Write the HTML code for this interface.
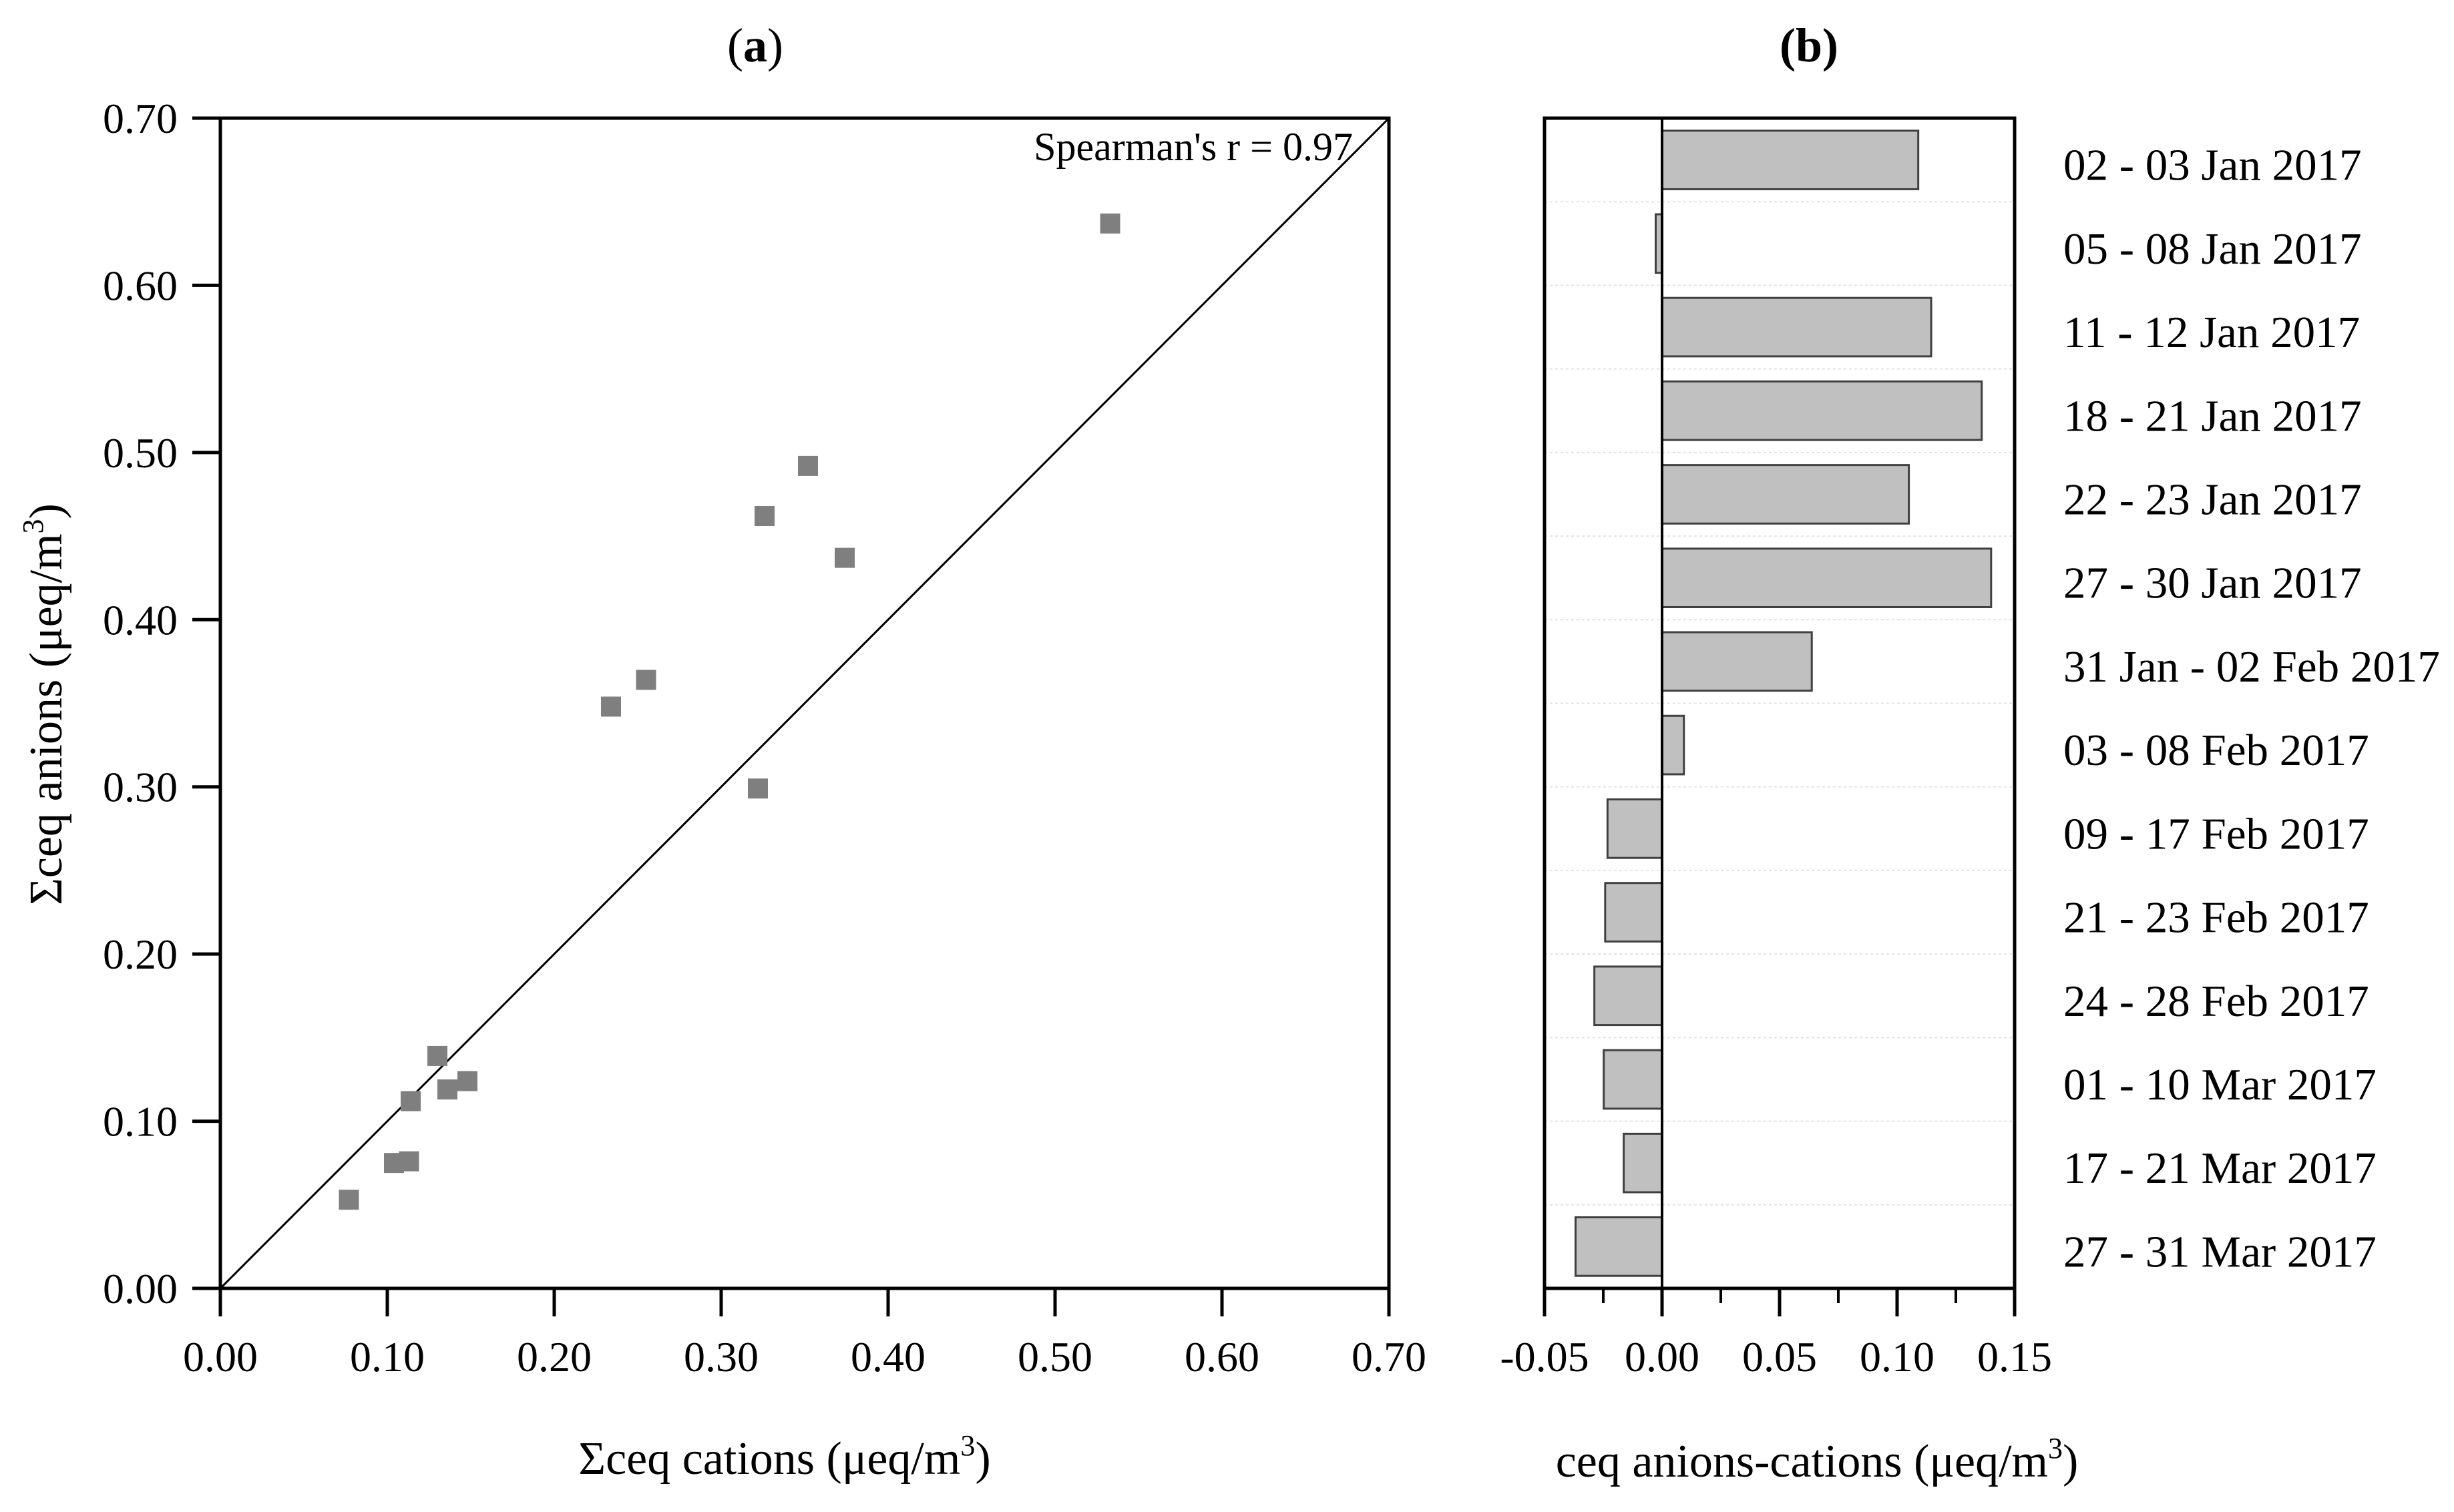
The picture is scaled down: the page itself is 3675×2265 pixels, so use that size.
<!DOCTYPE html>
<html><head><meta charset="utf-8"><style>
html,body{margin:0;padding:0;background:#fff}
svg{display:block;font-family:"Liberation Serif",serif}
</style></head><body>
<svg id="chart" width="3675" height="2265" viewBox="0 0 3675 2265" xmlns="http://www.w3.org/2000/svg">
<g id="pa"></g>
<g id="pb"></g>
</svg>
<script>
const scatterX=[0.533,0.352,0.326,0.374,0.255,0.234,0.322,0.130,0.136,0.148,0.114,0.104,0.113,0.077];
const scatterY=[0.637,0.492,0.462,0.437,0.364,0.348,0.299,0.139,0.119,0.124,0.112,0.075,0.076,0.053];
const scatterTicks=["0.00","0.10","0.20","0.30","0.40","0.50","0.60","0.70"];
const barCategories=["02 - 03 Jan 2017","05 - 08 Jan 2017","11 - 12 Jan 2017","18 - 21 Jan 2017","22 - 23 Jan 2017","27 - 30 Jan 2017","31 Jan - 02 Feb 2017","03 - 08 Feb 2017","09 - 17 Feb 2017","21 - 23 Feb 2017","24 - 28 Feb 2017","01 - 10 Mar 2017","17 - 21 Mar 2017","27 - 31 Mar 2017"];
const barValues=[0.109,-0.0027,0.1145,0.136,0.105,0.140,0.0637,0.0093,-0.0232,-0.0242,-0.0288,-0.0248,-0.0163,-0.0368];
const barTicks=["-0.05","0.00","0.05","0.10","0.15"];

const NS="http://www.w3.org/2000/svg";
function mk(parent,tag,attrs,text){const e=document.createElementNS(NS,tag);for(const k in attrs)e.setAttribute(k,attrs[k]);if(text!==undefined)e.textContent=text;parent.appendChild(e);return e;}
const FS=64, CFS=67, TFS=70;
const pa=document.getElementById('pa');
const L=330,R=2080,T=177,B=1930;
const sx=v=>L+(v-0)/(0.7)*(R-L);
const sy=v=>B-(v-0)/(0.7)*(B-T);
let e;
e=mk(pa,'text',{x:1131,y:92,'font-size':72,'text-anchor':'middle'});


e.innerHTML='(<tspan font-weight="bold">a</tspan>)';
e=mk(pa,'rect',{x:L,y:T,width:R-L,height:B-T,fill:'none',stroke:'#000','stroke-width':5});


e=mk(pa,'line',{x1:sx(0),y1:sy(0),x2:sx(0.7),y2:sy(0.7),stroke:'#000','stroke-width':3});


scatterTicks.forEach((t,i)=>{const v=parseFloat(t);
 e=mk(pa,'line',{x1:sx(v),y1:B,x2:sx(v),y2:B+42,stroke:'#000','stroke-width':5});
 
 
 e=mk(pa,'text',{x:sx(v),y:2054,'font-size':FS,'text-anchor':'middle'},t);
 
 
 e=mk(pa,'line',{x1:L-42,y1:sy(v),x2:L,y2:sy(v),stroke:'#000','stroke-width':5});
 
 
 e=mk(pa,'text',{x:266,y:sy(v)+22,'font-size':FS,'text-anchor':'end'},t);
 
 
});
scatterX.forEach((xv,i)=>{
 e=mk(pa,'rect',{x:sx(xv)-15,y:sy(scatterY[i])-15,width:30,height:30,fill:'#7f7f7f'});
 
 
});
e=mk(pa,'text',{x:2026,y:240,'font-size':60,'text-anchor':'end'},"Spearman's r = 0.97");


e=mk(pa,'text',{x:1175,y:2208,'font-size':TFS,'text-anchor':'middle'});


e.innerHTML='Σceq cations (μeq/m<tspan font-size="44" dy="-28">3</tspan><tspan dy="28">)</tspan>';
e=mk(pa,'text',{x:0,y:0,'font-size':TFS,'text-anchor':'middle',transform:'translate(92,1055) rotate(-90)'});


e.innerHTML='Σceq anions (μeq/m<tspan font-size="44" dy="-28">3</tspan><tspan dy="28">)</tspan>';

const pb=document.getElementById('pb');
const L2=2313,R2=3017;
const bx=v=>L2+(v-(-0.05))/0.2*(R2-L2);
const rowH=(B-T)/barCategories.length;
e=mk(pb,'text',{x:2709,y:92,'font-size':72,'text-anchor':'middle','font-weight':'bold'},'(b)');


for(let i=1;i<barCategories.length;i++){
 e=mk(pb,'line',{x1:L2,y1:T+i*rowH,x2:R2,y2:T+i*rowH,stroke:'#e2e2e2','stroke-width':2,'stroke-dasharray':'4 4'});
 
 
}
barCategories.forEach((c,i)=>{const v=barValues[i];const y0=T+i*rowH+rowH*0.15;
 const x0=Math.min(bx(0),bx(v)),w=Math.abs(bx(v)-bx(0));
 e=mk(pb,'rect',{x:x0,y:y0,width:w,height:rowH*0.7,fill:'#c0c0c0',stroke:'#404040','stroke-width':3});
 
 
 e=mk(pb,'text',{x:3090,y:T+(i+0.5)*rowH+30,'font-size':CFS},c);
 
 
});
e=mk(pb,'rect',{x:L2,y:T,width:R2-L2,height:B-T,fill:'none',stroke:'#000','stroke-width':5});


e=mk(pb,'line',{x1:bx(0),y1:T,x2:bx(0),y2:B,stroke:'#000','stroke-width':4});


barTicks.forEach((t,i)=>{const v=parseFloat(t);
 e=mk(pb,'line',{x1:bx(v),y1:B,x2:bx(v),y2:B+42,stroke:'#000','stroke-width':5});
 
 
 if(i<barTicks.length-1){
  e=mk(pb,'line',{x1:bx(v+0.025),y1:B,x2:bx(v+0.025),y2:B+22,stroke:'#000','stroke-width':4});
  
  
 }
 e=mk(pb,'text',{x:bx(v),y:2054,'font-size':FS,'text-anchor':'middle'},t);
 
 
});
e=mk(pb,'text',{x:2721,y:2212,'font-size':TFS,'text-anchor':'middle'});


e.innerHTML='ceq anions-cations (μeq/m<tspan font-size="44" dy="-28">3</tspan><tspan dy="28">)</tspan>';
</script>
</body></html>
